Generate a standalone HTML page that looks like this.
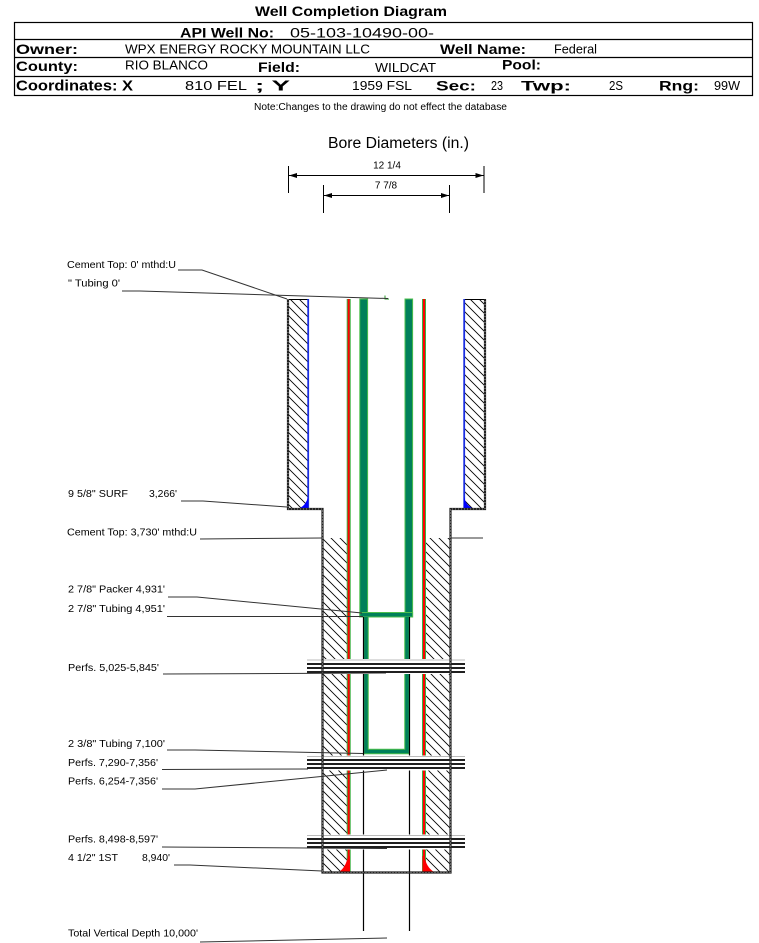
<!DOCTYPE html>
<html><head><meta charset="utf-8"><style>
html,body{margin:0;padding:0;background:#fff;}
svg{display:block;}
text{font-family:"Liberation Sans",Arial,sans-serif;fill:#000;}
</style></head><body>
<svg width="759" height="943" viewBox="0 0 759 943" xmlns="http://www.w3.org/2000/svg">
<defs>
<pattern id="h" width="9" height="9" patternUnits="userSpaceOnUse">
<path d="M-1,-1 L10,10 M-1,8 L1,10 M8,-1 L10,1" stroke="#000" stroke-width="0.85" fill="none"/>
</pattern>
</defs>
<rect width="759" height="943" fill="#fff"/>

<!-- Header -->
<text x="255" y="16" font-size="14" font-weight="bold" textLength="192" lengthAdjust="spacingAndGlyphs">Well Completion Diagram</text>
<rect x="14.5" y="22.5" width="738" height="73" fill="none" stroke="#000" stroke-width="1.2"/>
<line x1="14.5" y1="39.5" x2="752.5" y2="39.5" stroke="#000" stroke-width="1.2"/>
<line x1="14.5" y1="57.5" x2="752.5" y2="57.5" stroke="#000" stroke-width="1.2"/>
<line x1="14.5" y1="76.5" x2="752.5" y2="76.5" stroke="#000" stroke-width="1.2"/>

<text x="180" y="37.5" font-size="13.5" font-weight="bold" textLength="94" lengthAdjust="spacingAndGlyphs">API Well No:</text>
<text x="290" y="37.5" font-size="13.5" textLength="144" lengthAdjust="spacingAndGlyphs">05-103-10490-00-</text>

<text x="16" y="54" font-size="14" font-weight="bold" textLength="62" lengthAdjust="spacingAndGlyphs">Owner:</text>
<text x="125" y="53.5" font-size="12.5" textLength="245" lengthAdjust="spacingAndGlyphs">WPX ENERGY ROCKY MOUNTAIN LLC</text>
<text x="440" y="54" font-size="14" font-weight="bold" textLength="86" lengthAdjust="spacingAndGlyphs">Well Name:</text>
<text x="554" y="53.5" font-size="12.5" textLength="43" lengthAdjust="spacingAndGlyphs">Federal</text>

<text x="16" y="71" font-size="14" font-weight="bold" textLength="62" lengthAdjust="spacingAndGlyphs">County:</text>
<text x="125" y="69.5" font-size="12.5" textLength="83" lengthAdjust="spacingAndGlyphs">RIO BLANCO</text>
<text x="258" y="72" font-size="14" font-weight="bold" textLength="42" lengthAdjust="spacingAndGlyphs">Field:</text>
<text x="375" y="72" font-size="12.5" textLength="61" lengthAdjust="spacingAndGlyphs">WILDCAT</text>
<text x="502" y="69.5" font-size="14" font-weight="bold" textLength="39" lengthAdjust="spacingAndGlyphs">Pool:</text>

<text x="16" y="90.5" font-size="15" font-weight="bold" textLength="117" lengthAdjust="spacingAndGlyphs">Coordinates: X</text>
<text x="185" y="90" font-size="12.5" textLength="62" lengthAdjust="spacingAndGlyphs">810 FEL</text>
<text x="255" y="90.5" font-size="15" font-weight="bold" textLength="35" lengthAdjust="spacingAndGlyphs">; Y</text>
<text x="352" y="90" font-size="12.5" textLength="60" lengthAdjust="spacingAndGlyphs">1959 FSL</text>
<text x="436" y="90.5" font-size="14" font-weight="bold" textLength="40" lengthAdjust="spacingAndGlyphs">Sec:</text>
<text x="491" y="90" font-size="12.5" textLength="12" lengthAdjust="spacingAndGlyphs">23</text>
<text x="521" y="90.5" font-size="14" font-weight="bold" textLength="50" lengthAdjust="spacingAndGlyphs">Twp:</text>
<text x="609" y="90" font-size="12.5" textLength="14" lengthAdjust="spacingAndGlyphs">2S</text>
<text x="659" y="90.5" font-size="14" font-weight="bold" textLength="40" lengthAdjust="spacingAndGlyphs">Rng:</text>
<text x="714" y="90" font-size="12.5" textLength="26" lengthAdjust="spacingAndGlyphs">99W</text>

<text x="254" y="110" font-size="10" textLength="253" lengthAdjust="spacingAndGlyphs">Note:Changes to the drawing do not effect the database</text>

<!-- Bore diameters -->
<text x="328" y="148" font-size="15.5" textLength="141" lengthAdjust="spacingAndGlyphs">Bore Diameters (in.)</text>
<text x="387" y="168.5" font-size="10" text-anchor="middle">12 1/4</text>
<text x="386" y="188.5" font-size="10" text-anchor="middle">7 7/8</text>
<g stroke="#000" stroke-width="1">
<line x1="288.5" y1="166" x2="288.5" y2="193"/>
<line x1="484" y1="166" x2="484" y2="193"/>
<line x1="289" y1="175.5" x2="483.5" y2="175.5"/>
<line x1="323.5" y1="185" x2="323.5" y2="213"/>
<line x1="449.5" y1="185" x2="449.5" y2="213"/>
<line x1="324" y1="195.5" x2="449" y2="195.5"/>
</g>
<g fill="#000">
<polygon points="289,175.5 297,173 297,178"/>
<polygon points="483.5,175.5 475.5,173 475.5,178"/>
<polygon points="324,195.5 332,193 332,198"/>
<polygon points="449,195.5 441,193 441,198"/>
</g>

<!-- Cement hatch -->
<rect x="289" y="299" width="18.5" height="209" fill="url(#h)"/>
<rect x="465" y="299" width="19.5" height="209" fill="url(#h)"/>
<rect x="323.5" y="538" width="23.5" height="334" fill="url(#h)"/>
<rect x="426" y="538" width="23.5" height="334" fill="url(#h)"/>
<line x1="288" y1="299.5" x2="308" y2="299.5" stroke="#000" stroke-width="1"/>
<line x1="464" y1="299.5" x2="485" y2="299.5" stroke="#000" stroke-width="1"/>

<!-- Surface casing (blue) -->
<rect x="307.3" y="299" width="1.8" height="209" fill="#1a2ee0"/>
<rect x="463.3" y="299" width="1.8" height="209" fill="#1a2ee0"/>
<path d="M300,508 Q306,505 308,497 L308,508 Z" fill="#0000ff"/>
<path d="M464,497 Q466,505 472,508 L464,508 Z" fill="#0000ff"/>

<!-- Production casing (red w/ green edges) -->
<rect x="346.7" y="299" width="4" height="573" fill="#3cb043"/>
<rect x="347.7" y="299" width="2" height="573" fill="#ff0000"/>
<rect x="422" y="299" width="4" height="573" fill="#3cb043"/>
<rect x="423" y="299" width="2" height="573" fill="#ff0000"/>
<path d="M339,872 Q346,867 348,856 L350,856 L350,872 Z" fill="#ff0000"/>
<path d="M422.5,856 L424.5,856 Q426,867 434,872 L422.5,872 Z" fill="#ff0000"/>

<!-- 2 7/8 tubing -->
<rect x="359.8" y="299" width="7.8" height="318" fill="#00805a" stroke="#4cbf4c" stroke-width="1"/>
<rect x="405" y="299" width="7.6" height="318" fill="#00805a" stroke="#4cbf4c" stroke-width="1"/>
<rect x="359.8" y="612.5" width="52.8" height="4.5" fill="#00805a" stroke="#4cbf4c" stroke-width="1"/>
<path d="M385,295.5 L385,299 L389,299" stroke="#2a9a2a" stroke-width="1" fill="none"/>

<!-- 2 3/8 tubing box -->
<path d="M366,617 L366,751.5 L407,751.5 L407,617" fill="none" stroke="#4cbf4c" stroke-width="5.5"/>
<path d="M366,617 L366,751.5 L407,751.5 L407,617" fill="none" stroke="#00805a" stroke-width="3.5"/>
<line x1="363.5" y1="617" x2="363.5" y2="931" stroke="#000" stroke-width="1.2"/>
<line x1="409.5" y1="617" x2="409.5" y2="931" stroke="#000" stroke-width="1.2"/>

<!-- Perforations -->
<g>
<rect x="323.5" y="659" width="126" height="15" fill="#fff"/>
<line x1="307" y1="660" x2="465" y2="660" stroke="#bbb" stroke-width="1"/>
<line x1="307" y1="664" x2="465" y2="664" stroke="#000" stroke-width="1.8"/>
<line x1="307" y1="668" x2="465" y2="668" stroke="#000" stroke-width="1.8"/>
<line x1="307" y1="672" x2="465" y2="672" stroke="#000" stroke-width="1.8"/>

<rect x="323.5" y="755.5" width="126" height="15" fill="#fff"/>
<line x1="307" y1="756.5" x2="465" y2="756.5" stroke="#bbb" stroke-width="1"/>
<line x1="307" y1="760" x2="465" y2="760" stroke="#000" stroke-width="1.8"/>
<line x1="307" y1="764" x2="465" y2="764" stroke="#000" stroke-width="1.8"/>
<line x1="307" y1="768" x2="465" y2="768" stroke="#000" stroke-width="1.8"/>

<rect x="323.5" y="834.5" width="126" height="15" fill="#fff"/>
<line x1="307" y1="835.5" x2="465" y2="835.5" stroke="#bbb" stroke-width="1"/>
<line x1="307" y1="839" x2="465" y2="839" stroke="#000" stroke-width="1.8"/>
<line x1="307" y1="843" x2="465" y2="843" stroke="#000" stroke-width="1.8"/>
<line x1="307" y1="847" x2="465" y2="847" stroke="#000" stroke-width="1.8"/>
</g>

<!-- Outer borders -->
<path d="M288,299 L288,509 L322.5,509 L322.5,872.5 L450.5,872.5 L450.5,509 L485,509 L485,299" fill="none" stroke="#222" stroke-width="2.2"/>
<path d="M288,299 L288,509 L322.5,509 L322.5,872.5 L450.5,872.5 L450.5,509 L485,509 L485,299" fill="none" stroke="#fff" stroke-width="0.6" stroke-dasharray="1 2"/>

<!-- Leaders -->
<g stroke="#333" stroke-width="1" fill="none">
<polyline points="178,270 202,270 287,299"/>
<polyline points="122,291 140,291 388,298.5"/>
<polyline points="181,501 203,501 287,507"/>
<line x1="200" y1="539" x2="322" y2="538"/>
<line x1="450" y1="538" x2="483" y2="538"/>
<polyline points="168,597 197,597 362,613"/>
<line x1="167" y1="616.5" x2="363" y2="616.5"/>
<line x1="163" y1="674" x2="386" y2="673"/>
<polyline points="167,750 195,750 363,753.5"/>
<line x1="162" y1="769.5" x2="308" y2="769"/>
<polyline points="162,789 195,789 387,770"/>
<line x1="162" y1="847" x2="387" y2="848.5"/>
<polyline points="174,865 190,865 322,871"/>
<line x1="200" y1="942" x2="387" y2="938"/>
</g>

<!-- Labels -->
<g font-size="10.5">
<text x="67" y="268" textLength="109" lengthAdjust="spacingAndGlyphs">Cement Top: 0' mthd:U</text>
<text x="68" y="286.5" textLength="52" lengthAdjust="spacingAndGlyphs">" Tubing 0'</text>
<text x="68" y="497" textLength="60" lengthAdjust="spacingAndGlyphs">9 5/8" SURF</text>
<text x="149" y="497" textLength="28" lengthAdjust="spacingAndGlyphs">3,266'</text>
<text x="67" y="535.5" textLength="130" lengthAdjust="spacingAndGlyphs">Cement Top: 3,730' mthd:U</text>
<text x="68" y="592.5" textLength="97" lengthAdjust="spacingAndGlyphs">2 7/8" Packer 4,931'</text>
<text x="68" y="612" textLength="97" lengthAdjust="spacingAndGlyphs">2 7/8" Tubing 4,951'</text>
<text x="68" y="671" textLength="91" lengthAdjust="spacingAndGlyphs">Perfs. 5,025-5,845'</text>
<text x="68" y="747" textLength="97" lengthAdjust="spacingAndGlyphs">2 3/8" Tubing 7,100'</text>
<text x="68" y="766" textLength="90" lengthAdjust="spacingAndGlyphs">Perfs. 7,290-7,356'</text>
<text x="68" y="784.5" textLength="90" lengthAdjust="spacingAndGlyphs">Perfs. 6,254-7,356'</text>
<text x="68" y="842.5" textLength="90" lengthAdjust="spacingAndGlyphs">Perfs. 8,498-8,597'</text>
<text x="68" y="861" textLength="50" lengthAdjust="spacingAndGlyphs">4 1/2" 1ST</text>
<text x="142" y="861" textLength="28" lengthAdjust="spacingAndGlyphs">8,940'</text>
<text x="68" y="936.5" textLength="130" lengthAdjust="spacingAndGlyphs">Total Vertical Depth 10,000'</text>
</g>
</svg>
</body></html>
